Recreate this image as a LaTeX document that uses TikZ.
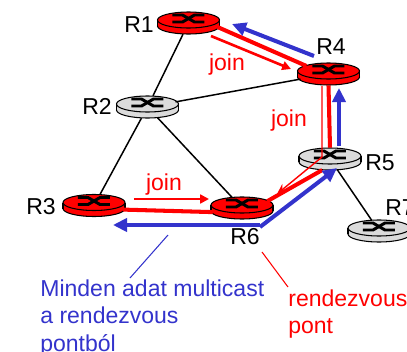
\documentclass[tikz,border=0pt]{standalone}
\usepackage{fontspec}
\setmainfont{Liberation Sans}
\usetikzlibrary{arrows.meta,shapes.geometric}
\definecolor{mblue}{RGB}{51,51,204}
\tikzset{
  routernode/.style={ellipse,minimum width=1.24cm,minimum height=.44cm,inner sep=0pt},
  lbl/.style={font=\fontsize{13.1pt}{15.9pt}\selectfont,inner sep=0pt},
  link/.style={line width=.85pt},
  redthick/.style={red,line width=2.3pt},
  redthin/.style={red,line width=1.5pt,-{Triangle[length=5pt,width=5pt]}},
  redhair/.style={red,line width=.8pt,-{Stealth[length=6pt,width=5pt]}},
  bluearrow/.style={mblue,line width=2.3pt,-{Triangle[length=8pt,width=7.5pt]}},
}
% name, position, colour
\newcommand{\router}[3]{
  \begin{scope}[shift={(#2)}]
  \draw[fill=#3,line width=.6pt] (0,3) ellipse [x radius=31,y radius=8];
  \fill[#3] (-31,-3) rectangle (31,3);
  \draw[line width=.6pt] (-31,-3) -- (-31,3) (31,-3) -- (31,3);
  \draw[fill=#3,line width=.6pt] (0,-3) ellipse [x radius=31,y radius=8];
  \draw[line width=1.7pt] (-16,-8) -- (-6,-8) -- (6,-1) -- (16,-1);
  \draw[line width=1.7pt] (-16,-1) -- (-6,-1) -- (6,-8) -- (16,-8);
  \node[routernode] (#1) at (0,0) {};
  \end{scope}
}
\begin{document}
\begin{tikzpicture}[x=.02cm,y=-.02cm]
\useasboundingbox (0,0) rectangle (407,352);
\router{R1}{188.5,23}{red}
\router{R2}{147.5,107}{gray!28}
\router{R3}{94,205.5}{red}
\router{R4}{328.5,74}{red}
\router{R5}{330,159}{gray!28}
\router{R6}{242,208}{red}
\router{R7}{379,231}{gray!28}

\draw[link] (R1) -- (R2);
\draw[link] (R2) -- (R3);
\draw[link] (R2) -- (R6);
\draw[link] (R2) -- (R4);
\draw[link] (R5) -- (R7);

\draw[redthick] (R1.-8) -- (R4.160);
\draw[redthick] (R4.-90) -- (R5.90);
\draw[redthick] (R5.-125) -- (R6.15);
\draw[redthick] (R3.-8) -- (R6.188);

% join arrows
\coordinate (j1a) at (211,36);
\coordinate (j1b) at (291,69);
\coordinate (j2a) at (134,199);
\coordinate (j2b) at (209,199);
\coordinate (j3a) at (322,86);
\coordinate (j3b) at (322,157);
\coordinate (j3c) at (277,194);
\draw[redthin] (j1a) -- (j1b);
\draw[redthin] (j2a) -- (j2b);
\draw[redhair] (j3a) -- (j3b) -- (j3c);

% data flow
\coordinate (b1) at (314,56);
\coordinate (b2) at (232,24);
\coordinate (b3) at (339,146);
\coordinate (b4) at (339,88);
\coordinate (b5) at (260,227);
\coordinate (b6) at (337,168);
\coordinate (b7) at (260,225);
\coordinate (b8) at (113,225);
\draw[bluearrow] (b1) -- (b2);
\draw[bluearrow] (b3) -- (b4);
\draw[bluearrow] (b5) -- (b6);
\draw[bluearrow] (b7) -- (b8);

\node[lbl] (l1) at (139,25) {R1};
\node[lbl] (l2) at (97,106) {R2};
\node[lbl] (l3) at (41,207) {R3};
\node[lbl] (l4) at (331,47) {R4};
\node[lbl] (l5) at (380,163) {R5};
\node[lbl] (l6) at (245,237) {R6};
\node[lbl,anchor=west] (l7) at (385,208) {R7};

\node[lbl,red] (join1) at (227,65) {join};
\node[lbl,red] (join2) at (289,121) {join};
\node[lbl,red] (join3) at (164,185) {join};

\node[lbl,mblue,anchor=north west,align=left] (multi) at (40,279) {Minden adat multicast\\a rendezvous\\pontból};
\node[lbl,red,anchor=north west,align=left] (rp) at (288,289) {rendezvous\\pont};

\coordinate (c1) at (168,235);
\coordinate (c2) at (130,278);
\coordinate (c3) at (262,252);
\coordinate (c4) at (288,287);
\draw[mblue,line width=.6pt] (c1) -- (c2);
\draw[red,line width=.6pt] (c3) -- (c4);
\end{tikzpicture}
\end{document}
